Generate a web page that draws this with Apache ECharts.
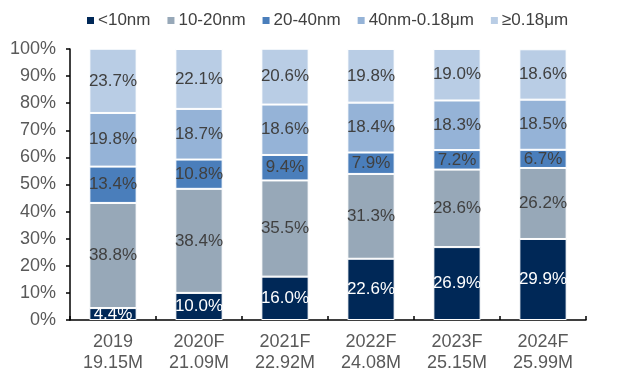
<!DOCTYPE html>
<html>
<head>
<meta charset="utf-8">
<script src="https://cdn.jsdelivr.net/npm/echarts@6/dist/echarts.min.js"></script>
<style>
  html, body { margin: 0; padding: 0; background: #fff; }
  #chart { width: 625px; height: 374px; }
</style>
</head>
<body>
<div id="chart"></div>
<script>
// Years and wafer capacity totals shown under each bar
const years = ['2019', '2020F', '2021F', '2022F', '2023F', '2024F'];
const totals = ['19.15M', '21.09M', '22.92M', '24.08M', '25.15M', '25.99M'];

// Share of capacity by node (%)
const seriesNames = ['<10nm', '10-20nm', '20-40nm', '40nm-0.18μm', '≥0.18μm'];
const below10 = [4.4, 10.0, 16.0, 22.6, 26.9, 29.9];
const n10to20 = [38.8, 38.4, 35.5, 31.3, 28.6, 26.2];
const n20to40 = [13.4, 10.8, 9.4, 7.9, 7.2, 6.7];
const n40to180 = [19.8, 18.7, 18.6, 18.4, 18.3, 18.5];
const above180 = [23.7, 22.1, 20.6, 19.8, 19.0, 18.6];
const yTicks = [0, 10, 20, 30, 40, 50, 60, 70, 80, 90, 100];

const colors = ['#002857', '#97a8b8', '#4a7ebb', '#95b3d7', '#b9cde5'];
const labelColors = ['#ffffff', '#404040', '#404040', '#404040', '#404040'];
const values = [below10, n10to20, n20to40, n40to180, above180];

const FONT = '"Liberation Sans", Arial, sans-serif';

const chart = echarts.init(document.getElementById('chart'), null, { renderer: 'canvas' });

chart.setOption({
  animation: false,
  color: colors,
  textStyle: { fontFamily: FONT },
  legend: {
    top: 7,
    left: 80,
    itemWidth: 9,
    itemHeight: 9,
    itemGap: 15,
    icon: 'rect',
    textStyle: { fontSize: 17, color: '#404040', fontFamily: FONT, padding: [0, 0, 0, -2] },
    data: seriesNames
  },
  grid: { left: 70, right: 39, top: 49, bottom: 54, containLabel: false },
  xAxis: {
    type: 'category',
    data: years.map((y, i) => y + '\n' + totals[i]),
    axisLine: { lineStyle: { color: '#000', width: 1.5 } },
    axisTick: { show: true, inside: true, length: 4, lineStyle: { color: '#000', width: 1.5 } },
    axisLabel: { fontSize: 18, color: '#595959', lineHeight: 21, margin: 12, fontFamily: FONT }
  },
  yAxis: {
    type: 'value',
    min: yTicks[0],
    max: yTicks[yTicks.length - 1],
    interval: 10,
    splitLine: { show: false },
    axisLine: { show: true, lineStyle: { color: '#000', width: 1.5 } },
    axisTick: { show: true, length: 4, lineStyle: { color: '#000', width: 1.5 } },
    axisLabel: { fontSize: 18, color: '#595959', margin: 14, formatter: '{value}%', fontFamily: FONT }
  },
  series: seriesNames.map((name, i) => ({
    name: name,
    type: 'bar',
    stack: 'total',
    barWidth: '55%',
    data: values[i],
    itemStyle: { borderColor: '#ffffff', borderWidth: 1 },
    label: {
      show: true,
      position: 'inside',
      fontSize: 17,
      color: labelColors[i],
      fontFamily: FONT,
      formatter: p => p.value.toFixed(1) + '%'
    }
  }))
});
</script>
</body>
</html>
